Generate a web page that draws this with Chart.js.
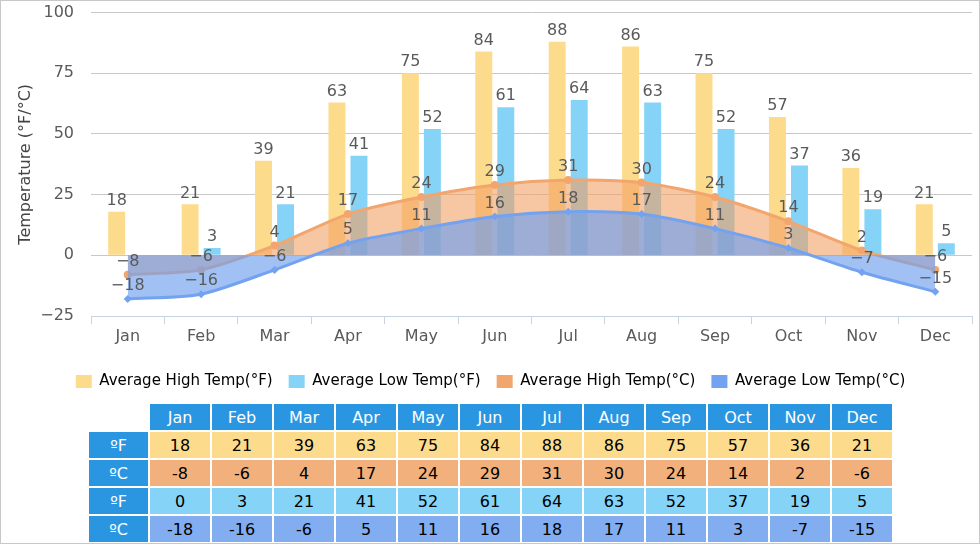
<!DOCTYPE html>
<html>
<head>
<meta charset="utf-8">
<script src="https://cdn.jsdelivr.net/npm/chart.js@4/dist/chart.umd.min.js"></script>
<style>
  body{margin:0;background:#fff;font-family:"DejaVu Sans",Verdana,sans-serif;}
  #wrap{position:absolute;left:0;top:0;width:980px;height:544px;border:1px solid #c8c8c8;box-sizing:border-box;overflow:hidden;}
  #cv{position:absolute;left:0;top:-15px;}
  #tbl{position:absolute;left:86px;top:401px;border-collapse:separate;border-spacing:2px;font-size:16px;}
  #tbl td{width:60px;height:26px;padding:0;text-align:center;color:#000;}
  #tbl td.hd{background:#2a96e2;color:#fff;}
  #tbl td.first{width:59px;}
</style>
</head>
<body>
<div id="wrap">
  <canvas id="cv" width="980" height="413"></canvas>
  <table id="tbl"></table>
</div>
<script>
const months = ['Jan','Feb','Mar','Apr','May','Jun','Jul','Aug','Sep','Oct','Nov','Dec'];
const highF = [18,21,39,63,75,84,88,86,75,57,36,21];
const lowF  = [0,3,21,41,52,61,64,63,52,37,19,5];
const highC = [-8,-6,4,17,24,29,31,30,24,14,2,-6];
const lowC  = [-18,-16,-6,5,11,16,18,17,11,3,-7,-15];
const yTicks = [-25,0,25,50,75,100];

// table under the chart
const rows = [
  ['ºF', highF, '#fddb8c'],
  ['ºC', highC, '#f2b17c'],
  ['ºF', lowF,  '#86d3f8'],
  ['ºC', lowC,  '#82adf0']
];
let html = '<tr><td class="first"></td>' + months.map(m=>`<td class="hd">${m}</td>`).join('') + '</tr>';
rows.forEach(r=>{
  html += `<tr><td class="hd first">${r[0]}</td>` + r[1].map(v=>`<td style="background:${r[2]}">${v}</td>`).join('') + '</tr>';
});
tbl.innerHTML = html;

const minus = v => String(v).replace('-','\u2212');

// value labels above bars and points
const valueLabels = {
  id:'valueLabels',
  afterDatasetsDraw(chart){
    const ctx = chart.ctx;
    ctx.save();
    ctx.font = '16px "DejaVu Sans"';
    ctx.fillStyle = '#5a5a5a';
    ctx.textAlign = 'center';
    ctx.textBaseline = 'bottom';
    chart.data.datasets.forEach((ds,i)=>{
      const meta = chart.getDatasetMeta(i);
      meta.data.forEach((el,j)=>{
        const v = ds.data[j];
        if(ds.type==='bar' && v===0) return;
        const y = ds.type==='bar' ? Math.min(el.y, el.base) - 3 : el.y - 5;
        ctx.fillText(minus(v), el.x, y);
      });
    });
    ctx.restore();
  }
};

new Chart(cv, {
  data:{
    labels: months,
    datasets:[
      {type:'bar', label:'Average High Temp(°F)', data:highF, backgroundColor:'#fddb8c', order:3,
        categoryPercentage:0.6, barPercentage:0.77},
      {type:'bar', label:'Average Low Temp(°F)', data:lowF, backgroundColor:'#86d3f8', order:4,
        categoryPercentage:0.6, barPercentage:0.77},
      {type:'line', label:'Average High Temp(°C)', data:highC, borderColor:'#f2a66e', backgroundColor:'rgba(241,160,100,0.6)',
        fill:'origin', tension:0.25, borderWidth:3, pointRadius:4, pointBackgroundColor:'#f2a66e', pointBorderWidth:0, order:2},
      {type:'line', label:'Average Low Temp(°C)', data:lowC, borderColor:'#72a2f0', backgroundColor:'rgba(110,160,240,0.65)',
        fill:'origin', tension:0.25, borderWidth:3, pointRadius:4, pointStyle:'rectRot', pointBackgroundColor:'#72a2f0', pointBorderWidth:0, order:1}
    ]
  },
  options:{
    responsive:false,
    animation:false,
    layout:{padding:{top:11,right:9,left:8,bottom:0}},
    plugins:{
      tooltip:{enabled:false},
      legend:{
        position:'bottom',
        labels:{
          boxWidth:16, boxHeight:13, padding:16, color:'#000',
          font:{family:'"DejaVu Sans"', size:15},
          generateLabels(chart){
            return chart.data.datasets.map((d,i)=>({
              text:d.label, fillStyle:i<2?d.backgroundColor:d.borderColor, strokeStyle:'transparent', lineWidth:0,
              hidden:false, datasetIndex:i, fontColor:'#000'
            }));
          }
        }
      }
    },
    scales:{
      x:{
        offset:true,
        grid:{drawOnChartArea:false, tickLength:8, color:'#c5d3e3', offset:true},
        border:{color:'#c5d3e3'},
        ticks:{color:'#5a5a5a', font:{family:'"DejaVu Sans"', size:16}, padding:3},
        afterFit(s){ s.height = 42; }
      },
      y:{
        min:yTicks[0], max:yTicks[yTicks.length-1],
        afterBuildTicks(s){ s.ticks = yTicks.map(v=>({value:v})); },
        grid:{color:'#c8c8c8', drawTicks:false},
        border:{display:false},
        ticks:{color:'#5a5a5a', font:{family:'"DejaVu Sans"', size:16}, padding:17, callback:v=>minus(v)},
        title:{display:true, text:'Temperature (°F/°C)', color:'#444', font:{family:'"DejaVu Sans"', size:16}, padding:{top:7,bottom:4}},
        afterFit(s){ s.width = 82; }
      }
    }
  },
  plugins:[valueLabels]
});
</script>
</body>
</html>
